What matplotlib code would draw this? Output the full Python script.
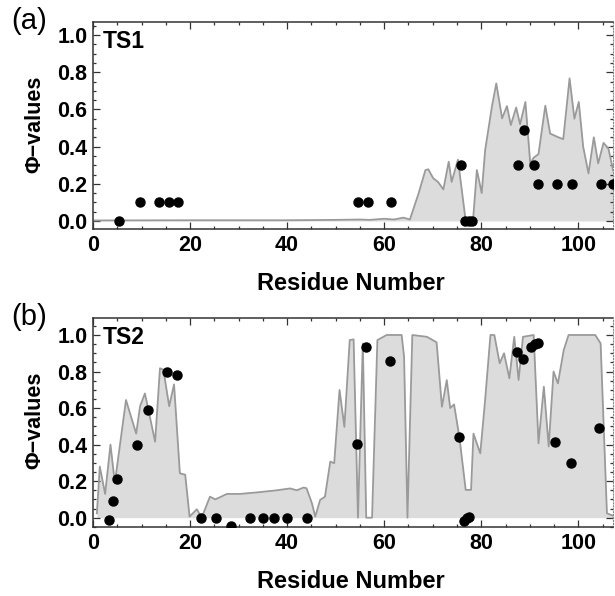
#!/usr/bin/env python3
# Phi-value profiles for the two transition states (TS1, TS2)

import numpy as np
import matplotlib.pyplot as plt
from matplotlib.ticker import MultipleLocator

plt.rcParams['font.family'] = ['Liberation Sans', 'DejaVu Sans']

# simulated phi-value profile, TS1
ts1_res = [0, 20, 40, 50, 55, 57, 60, 62, 64, 65.3, 67.1, 68.5, 69.1, 70.1,
           71.1, 72.2, 73.3, 73.9, 75.2, 76.8, 78.3, 79.1, 80.1, 80.8, 82.2,
           83.1, 84.3, 85.3, 86.1, 87.2, 88.0, 89.1, 90.1, 90.8, 91.8, 93.2,
           94.2, 95.9, 96.9, 98.2, 99.2, 100.1, 101.0, 102.1, 103.2, 104.1,
           105.2, 106.2, 107.2]
ts1_phi = [0.003, 0.004, 0.004, 0.006, 0.008, 0.006, 0.012, 0.008, 0.018,
           0.008, 0.149, 0.274, 0.278, 0.23, 0.21, 0.17, 0.319, 0.21, 0.33,
           0.0, 0.0, 0.274, 0.15, 0.38, 0.615, 0.74, 0.552, 0.618, 0.516,
           0.61, 0.52, 0.64, 0.31, 0.34, 0.36, 0.62, 0.47, 0.45, 0.44, 0.767,
           0.55, 0.64, 0.40, 0.256, 0.45, 0.31, 0.42, 0.39, 0.27]

# experimental phi-values, TS1
ts1_exp_res = [5.4, 9.6, 13.5, 15.7, 17.6, 54.7, 56.6, 61.4, 75.8, 76.7,
               77.4, 78.1, 87.6, 88.9, 90.8, 91.7, 95.6, 98.8, 104.7, 107.2]
ts1_exp_phi = [0.0, 0.1, 0.1, 0.1, 0.1, 0.1, 0.1, 0.1, 0.3, 0.0,
               0.0, 0.0, 0.3, 0.49, 0.3, 0.2, 0.2, 0.2, 0.2, 0.2]

# simulated phi-value profile, TS2
ts2_res = [0.8, 1.4, 2.5, 3.6, 4.5, 6.8, 8.9, 9.7, 10.7, 12.8, 13.8, 14.5,
           15.7, 16.7, 17.9, 19.0, 19.9, 21.4, 22.4, 24.1, 25.2, 27.6, 30.3,
           34.4, 37.9, 40.6, 42.0, 43.4, 44.0, 45.1, 45.8, 46.8, 47.8, 48.9,
           49.7, 50.8, 51.8, 52.9, 53.7, 54.6, 55.6, 56.3, 57.5, 58.6, 60.5,
           63.6, 64.1, 64.8, 65.8, 68.8, 70.8, 71.9, 72.9, 73.6, 74.4, 75.5,
           76.8, 77.9, 78.4, 79.8, 80.8, 81.9, 82.7, 83.8, 84.7, 85.8, 86.8,
           87.7, 88.6, 90.8, 91.8, 92.9, 93.9, 94.9, 95.8, 97.0, 98.0, 103.5,
           104.6, 105.9, 107.6]
ts2_phi = [0.024, 0.28, 0.13, 0.40, 0.19, 0.644, 0.46, 0.61, 0.68, 0.416,
           0.818, 0.81, 0.61, 0.73, 0.243, 0.235, 0.006, 0.046, 0.0, 0.115,
           0.10, 0.13, 0.13, 0.14, 0.15, 0.16, 0.15, 0.165, 0.161, 0.08,
           0.006, 0.097, 0.115, 0.307, 0.298, 0.699, 0.497, 0.972, 0.976,
           0.0, 0.954, 0.0, 0.0, 0.972, 1.0, 1.0, 0.88, 0.0, 1.0, 0.99, 0.96,
           0.607, 0.753, 0.60, 0.62, 0.44, 0.152, 0.152, 0.46, 0.352, 0.644,
           1.0, 1.0, 0.845, 0.90, 0.763, 0.99, 0.754, 0.99, 1.0, 0.407, 0.717,
           0.39, 0.80, 0.735, 0.918, 1.0, 1.0, 0.954, 0.024, 0.006]

# experimental phi-values, TS2
ts2_exp_res = [3.3, 4.2, 5.0, 9.0, 11.3, 15.2, 17.3, 22.2, 25.3, 28.5, 32.4,
               35.1, 37.3, 40.0, 44.1, 54.4, 56.3, 61.1, 75.5, 76.4, 77.0,
               77.4, 87.4, 88.6, 90.2, 91.1, 91.6, 95.3, 98.5, 104.2]
ts2_exp_phi = [-0.01, 0.09, 0.21, 0.40, 0.59, 0.796, 0.78, 0.0, 0.0, -0.045,
               0.0, 0.0, 0.0, 0.0, 0.0, 0.403, 0.936, 0.86, 0.44, -0.017,
               -0.004, 0.005, 0.909, 0.866, 0.932, 0.951, 0.954, 0.416, 0.30,
               0.489]

W, H = 615, 596
fig = plt.figure(figsize=(W / 100, H / 100), dpi=100)


def panel(top, bottom, ylim, res, phi, eres, ephi, tag, letter):
    # top/bottom are the frame edges in pixels from the top of the figure
    ax = fig.add_axes([93 / W, 1 - bottom / H, 520 / W, (bottom - top) / H])
    ax.fill_between(res, phi, 0, color='#dcdcdc', lw=0)
    ax.plot(res, phi, color='#9a9a9a', lw=1.3)
    ax.plot(eres, ephi, 'o', color='black', ms=6.5, zorder=3)
    ax.set_xlim(0, 107.15)
    ax.set_ylim(*ylim)
    ax.xaxis.set_major_locator(MultipleLocator(20))
    ax.xaxis.set_minor_locator(MultipleLocator(5))
    ax.yaxis.set_major_locator(MultipleLocator(0.2))
    ax.yaxis.set_minor_locator(MultipleLocator(0.05))
    ax.yaxis.set_major_formatter(plt.FormatStrFormatter('%.1f'))
    ax.tick_params(which='both', direction='in', top=True, right=True,
                   colors='#333333', labelcolor='black', width=0.9)
    ax.tick_params(which='major', length=5, labelsize=15.5, pad=4)
    ax.tick_params(which='minor', length=2.5)
    for lab in ax.get_xticklabels() + ax.get_yticklabels():
        lab.set_fontweight('bold')
    for s in ['left', 'bottom', 'top']:
        ax.spines[s].set_color('#333333')
        ax.spines[s].set_linewidth(1.1)
    ax.spines['right'].set_linestyle(':')
    ax.spines['right'].set_color('#888888')

    fig.text(103 / W, 1 - (top + 20) / H, tag, fontsize=16.5,
             fontweight='bold', va='center', ha='left')
    fig.text(351 / W, 1 - (bottom + 54) / H, 'Residue Number', fontsize=17,
             fontweight='bold', ha='center', va='center')
    fig.text(35 / W, 1 - (top + 102) / H, '\u03a6\u2212values', fontsize=15.5,
             fontweight='bold', ha='center', va='center', rotation=90)
    fig.text(29 / W, 1 - (top - 1) / H, letter, fontsize=21,
             ha='center', va='center')
    return ax


panel(22, 229, (-0.043, 1.07), ts1_res, ts1_phi, ts1_exp_res, ts1_exp_phi,
      'TS1', '(a)')
panel(318, 527, (-0.051, 1.093), ts2_res, ts2_phi, ts2_exp_res, ts2_exp_phi,
      'TS2', '(b)')

fig.savefig('out.png', dpi=100)
